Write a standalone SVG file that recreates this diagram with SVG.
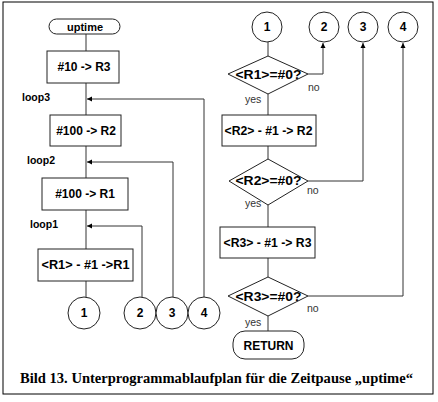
<svg xmlns="http://www.w3.org/2000/svg" width="438" height="402" viewBox="0 0 438 402">
<style>
.shape{fill:#fff;stroke:#222;stroke-width:1}
.line{fill:none;stroke:#333;stroke-width:1}
.t{font-family:"Liberation Sans",Arial,sans-serif;font-weight:bold;font-size:12px;fill:#000;text-anchor:middle}
.lbl{font-family:"Liberation Sans",Arial,sans-serif;font-weight:bold;font-size:10.5px;fill:#000}
.yn{font-family:"Liberation Sans",Arial,sans-serif;font-size:10.5px;fill:#333}
.cap{font-family:"Liberation Serif","Times New Roman",serif;font-weight:bold;font-size:14px;fill:#000}
</style>
<defs>
<marker id="arr" markerWidth="6" markerHeight="6" refX="5" refY="3" orient="auto" markerUnits="userSpaceOnUse">
<path d="M0,0.5 L5,3 L0,5.5 z" fill="#000"/>
</marker>
</defs>
<rect x="3" y="2" width="430" height="392" fill="#fff" stroke="#000" stroke-width="1"/>
<g id="connectors">
<line class="line" x1="86" y1="34" x2="86" y2="51"/>
<line class="line" x1="86" y1="83" x2="86" y2="115"/>
<line class="line" x1="86" y1="146" x2="86" y2="178"/>
<line class="line" x1="86" y1="210" x2="86" y2="249"/>
<line class="line" x1="86" y1="281" x2="86" y2="297"/>
<polyline class="line" points="204,297 204,99 87,99" marker-end="url(#arr)"/>
<polyline class="line" points="173,297 173,162 87,162" marker-end="url(#arr)"/>
<polyline class="line" points="142,297 142,226 87,226" marker-end="url(#arr)"/>
<line class="line" x1="268" y1="42" x2="268" y2="56"/>
<line class="line" x1="268" y1="94" x2="268" y2="115"/>
<line class="line" x1="268" y1="146" x2="268" y2="159"/>
<line class="line" x1="268" y1="205" x2="268" y2="227"/>
<line class="line" x1="268" y1="258" x2="268" y2="277"/>
<line class="line" x1="268" y1="316" x2="268" y2="331"/>
<polyline class="line" points="308,74 323,74 323,43" marker-end="url(#arr)"/>
<polyline class="line" points="308,181 363,181 363,43" marker-end="url(#arr)"/>
<polyline class="line" points="308,296 403,296 403,43" marker-end="url(#arr)"/>
</g>
<g id="uptime"><rect class="shape" x="49" y="19" width="71" height="15" rx="7.5"/><text class="t" x="85" y="30.5" style="font-size:11px">uptime</text></g>
<g id="box10r3"><rect class="shape" x="47" y="51" width="72" height="32"/><text class="t" x="84" y="71">#10 -&gt; R3</text></g>
<text class="lbl" x="22" y="101">loop3</text>
<g id="box100r2"><rect class="shape" x="50" y="115" width="71" height="31"/><text class="t" x="86" y="135">#100 -&gt; R2</text></g>
<text class="lbl" x="27" y="164">loop2</text>
<g id="box100r1"><rect class="shape" x="42" y="178" width="86" height="32"/><text class="t" x="85" y="198">#100 -&gt; R1</text></g>
<text class="lbl" x="30" y="228">loop1</text>
<g id="boxdecr1"><rect class="shape" x="38" y="249" width="95" height="32"/><text class="t" x="85.5" y="269" textLength="88" lengthAdjust="spacingAndGlyphs">&lt;R1&gt; - #1 -&gt;R1</text></g>
<g id="cL1"><circle class="shape" cx="84" cy="313" r="16"/><text class="t" x="84" y="317">1</text></g>
<g id="cL2"><circle class="shape" cx="140" cy="313" r="16"/><text class="t" x="140" y="317">2</text></g>
<g id="cL3"><circle class="shape" cx="172" cy="313" r="16"/><text class="t" x="172" y="317">3</text></g>
<g id="cL4"><circle class="shape" cx="204" cy="313" r="16"/><text class="t" x="204" y="317">4</text></g>
<g id="cR1"><circle class="shape" cx="267" cy="27" r="15"/><text class="t" x="267" y="31">1</text></g>
<g id="cR2"><circle class="shape" cx="324" cy="27" r="15"/><text class="t" x="324" y="31">2</text></g>
<g id="cR3"><circle class="shape" cx="363" cy="27" r="15"/><text class="t" x="363" y="31">3</text></g>
<g id="cR4"><circle class="shape" cx="403" cy="27" r="15"/><text class="t" x="403" y="31">4</text></g>
<g id="dec1"><polygon class="shape" points="268,56 308,74 268,94 228,74"/><text class="t" x="268.5" y="79" textLength="66" lengthAdjust="spacingAndGlyphs">&lt;R1&gt;=#0?</text></g>
<text class="yn" x="308" y="91">no</text>
<text class="yn" x="245" y="103">yes</text>
<g id="boxdecr2"><rect class="shape" x="222" y="115" width="94" height="31"/><text class="t" x="268.5" y="135" textLength="88" lengthAdjust="spacingAndGlyphs">&lt;R2&gt; - #1 -&gt; R2</text></g>
<g id="dec2"><polygon class="shape" points="268,159 308,181 268,205 229,181"/><text class="t" x="268.5" y="185" textLength="66" lengthAdjust="spacingAndGlyphs">&lt;R2&gt;=#0?</text></g>
<text class="yn" x="307" y="194">no</text>
<text class="yn" x="245" y="207">yes</text>
<g id="boxdecr3"><rect class="shape" x="220" y="227" width="95" height="31"/><text class="t" x="267.5" y="247" textLength="88" lengthAdjust="spacingAndGlyphs">&lt;R3&gt; - #1 -&gt; R3</text></g>
<g id="dec3"><polygon class="shape" points="268,277 308,296 268,316 228,296"/><text class="t" x="268.5" y="301" textLength="66" lengthAdjust="spacingAndGlyphs">&lt;R3&gt;=#0?</text></g>
<text class="yn" x="307" y="312">no</text>
<text class="yn" x="245" y="326">yes</text>
<g id="return"><rect class="shape" x="233" y="331" width="71" height="28" rx="12"/><text class="t" x="268.5" y="349.5">RETURN</text></g>
<text class="cap" x="20" y="383" textLength="393" lengthAdjust="spacingAndGlyphs">Bild 13. Unterprogrammablaufplan für die Zeitpause „uptime“</text>
</svg>
